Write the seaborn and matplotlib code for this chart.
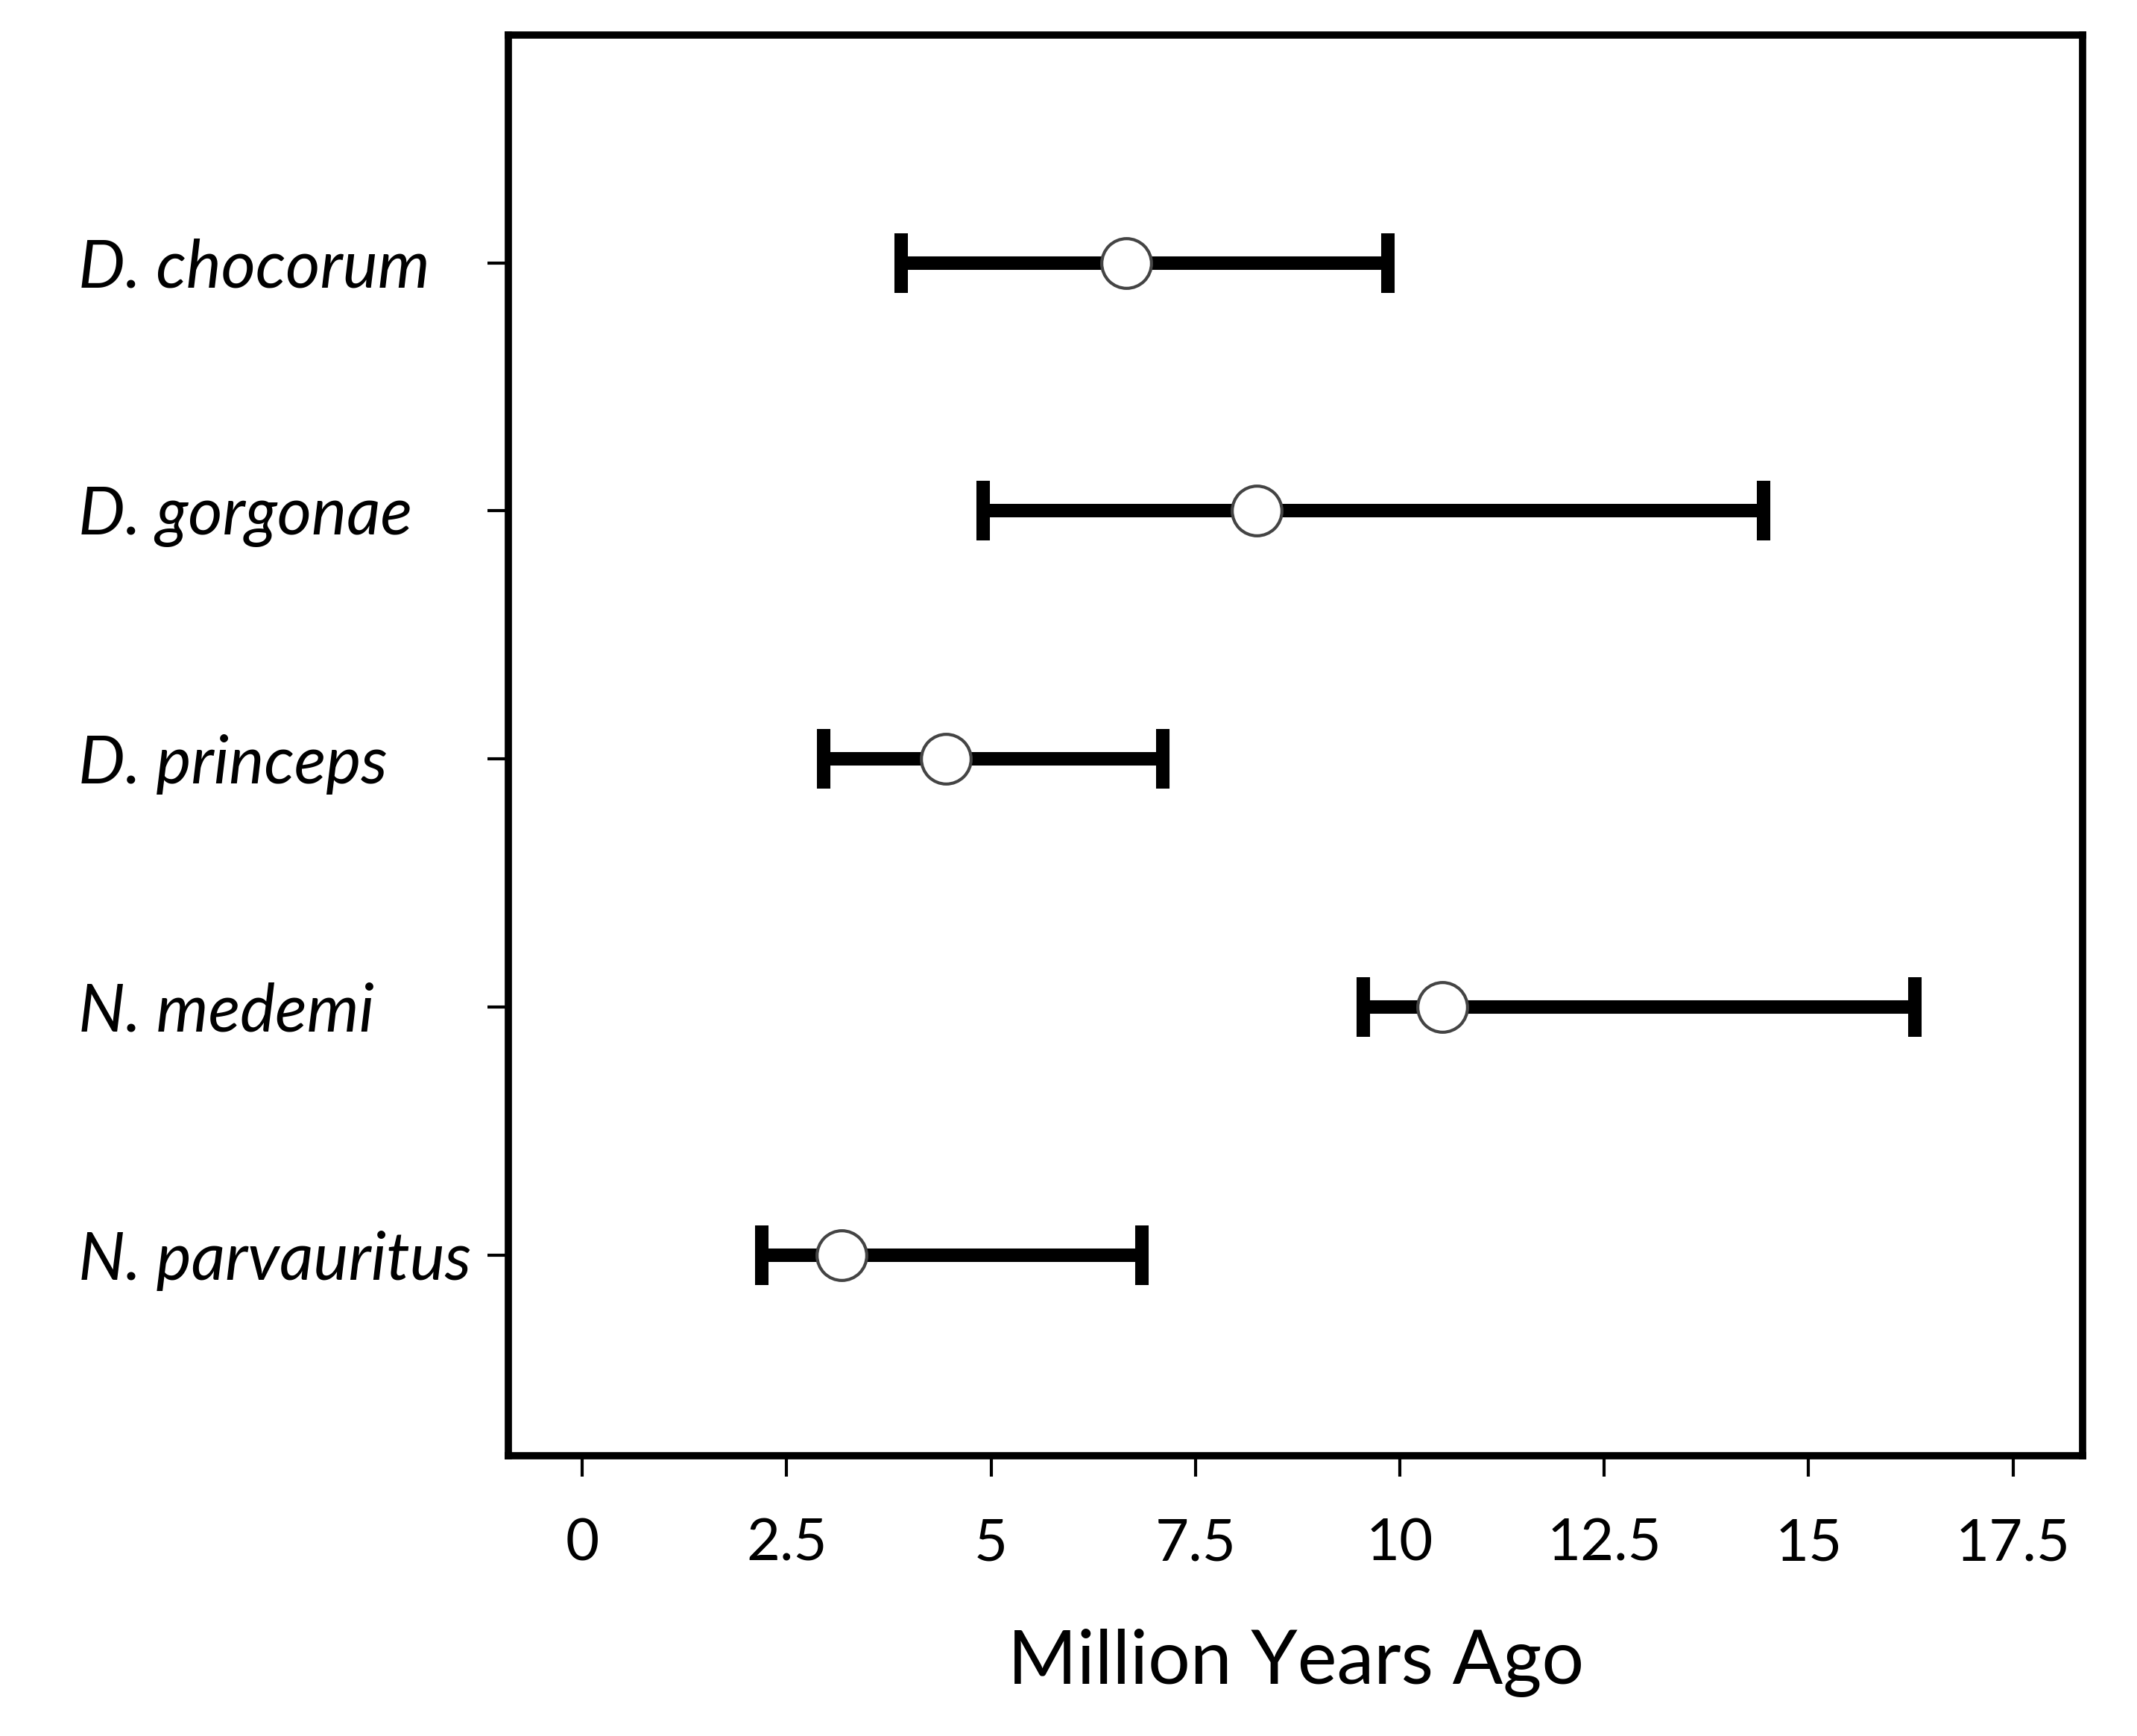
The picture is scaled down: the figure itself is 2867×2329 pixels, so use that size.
import pandas as pd
import seaborn as sns
import matplotlib.pyplot as plt

# ----------------------------------------------------
# data: divergence time estimates
# ----------------------------------------------------
species = ["D. chocorum", "D. gorgonae", "D. princeps", "N. medemi", "N. parvauritus"]
low = [3.9, 4.9, 2.95, 9.55, 2.2]
estimate = [6.65, 8.25, 4.45, 10.52, 3.17]
high = [9.85, 14.45, 7.1, 16.3, 6.85]

xticks = [0, 2.5, 5, 7.5, 10, 12.5, 15, 17.5]
xtick_labels = ["0", "2.5", "5", "7.5", "10", "12.5", "15", "17.5"]

# long form: median of (low, estimate, high) is the point, min-max the interval
df = pd.DataFrame({
    "species": species * 3,
    "mya": low + estimate + high,
})

sns.set_style("white")
plt.rcParams["font.family"] = ["Lato", "DejaVu Sans"]
plt.rcParams["text.color"] = "black"
plt.rcParams["axes.labelcolor"] = "black"
plt.rcParams["xtick.color"] = "black"
plt.rcParams["ytick.color"] = "black"

fig = plt.figure(figsize=(14.335, 11.645), dpi=200)
ax = fig.add_axes([0.238, 0.1614, 0.7365, 0.8186])

sns.pointplot(
    data=df, x="mya", y="species", order=species, orient="h",
    estimator="median", errorbar=("pi", 100),
    color="black", linestyle="none", capsize=0.24,
    err_kws={"linewidth": 6.5, "solid_capstyle": "butt"},
    marker="o", markersize=24, markerfacecolor="white",
    markeredgecolor="#444444", markeredgewidth=1.5,
    ax=ax,
)

# points above the interval lines
for ln in ax.lines:
    if ln.get_marker() not in (None, "None", "", " "):
        ln.set_zorder(5)

ax.set_xlim(-0.9, 18.35)
ax.set_ylim(4.81, -0.92)
ax.set_xticks(xticks)
ax.set_xticklabels(xtick_labels)
ax.set_xlabel("Million Years Ago", fontsize=36, labelpad=28)
ax.set_ylabel("")

# species names are left aligned in the original
for lab in ax.get_yticklabels():
    lab.set_fontstyle("italic")
    lab.set_fontsize(32)
    lab.set_horizontalalignment("left")
for lab in ax.get_xticklabels():
    lab.set_fontsize(28)

ax.tick_params(axis="y", direction="out", length=10, width=1.5, pad=198, left=True)
ax.tick_params(axis="x", direction="out", length=10, width=1.5, pad=20, bottom=True)

for side in ["left", "right", "top", "bottom"]:
    ax.spines[side].set_visible(True)
    ax.spines[side].set_linewidth(3.5)
    ax.spines[side].set_color("black")

plt.savefig("out.png", dpi=200)
plt.close()
